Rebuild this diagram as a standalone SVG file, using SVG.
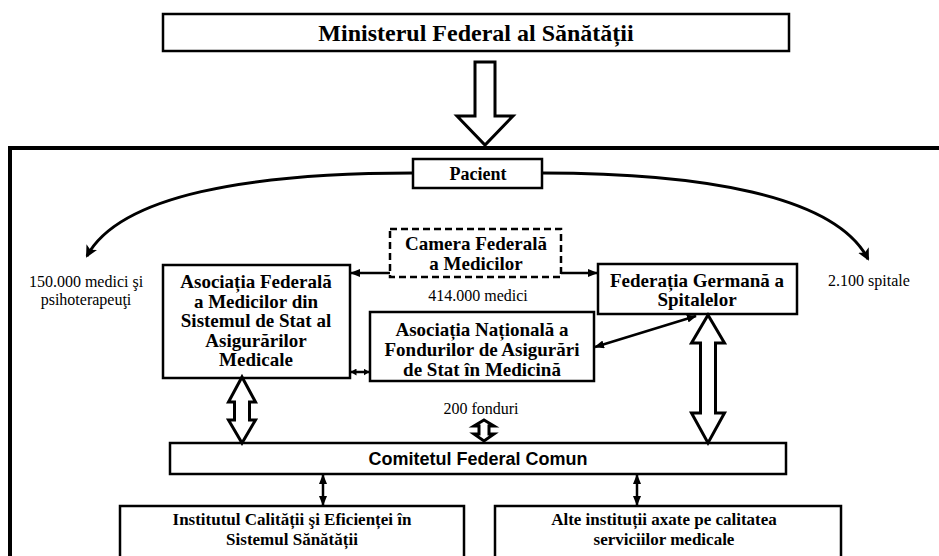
<svg xmlns="http://www.w3.org/2000/svg" width="939" height="556" viewBox="0 0 939 556">
  <defs>
    <style>
      .box { fill: #fff; stroke: #000; stroke-width: 2.5; }
      .dash { fill: #fff; stroke: #000; stroke-width: 2.5; stroke-dasharray: 7 4; }
      .frame { fill: none; stroke: #000; stroke-width: 4; }
      .t { font-family: "Liberation Serif", "Times New Roman", serif; font-weight: bold; font-size: 19px; text-anchor: middle; fill: #000; }
      .tb { font-family: "Liberation Serif", "Times New Roman", serif; font-weight: bold; font-size: 17px; text-anchor: middle; fill: #000; }
      .note { font-family: "Liberation Serif", "Times New Roman", serif; font-size: 16px; text-anchor: middle; fill: #000; }
      .sans { font-family: "Liberation Sans", Arial, sans-serif; font-weight: bold; font-size: 18px; text-anchor: middle; fill: #000; }
      .thin { fill: none; stroke: #000; stroke-width: 2.5; }
      .curve { fill: none; stroke: #000; stroke-width: 3; }
      .block { fill: #fff; stroke: #000; stroke-width: 3; stroke-linejoin: miter; }
    </style>
    <marker id="head" viewBox="0 0 10 8" refX="9" refY="4" markerWidth="10" markerHeight="8" markerUnits="userSpaceOnUse" orient="auto-start-reverse">
      <path d="M0,0 L10,4 L0,8 Z" fill="#000"/>
    </marker>
    <marker id="small" viewBox="0 0 6 7" refX="5.5" refY="3.5" markerWidth="6" markerHeight="7" markerUnits="userSpaceOnUse" orient="auto-start-reverse">
      <path d="M0,0 L6,3.5 L0,7 Z" fill="#000"/>
    </marker>
    <marker id="bighead" viewBox="0 0 12 12" refX="10" refY="6" markerWidth="12" markerHeight="12" markerUnits="userSpaceOnUse" orient="auto">
      <path d="M0,0 L12,6 L0,12 L3,6 Z" fill="#000"/>
    </marker>
  </defs>

  <!-- outer frame, running past the right and bottom edges -->
  <rect class="frame" x="10" y="148" width="940" height="430"/>

  <g id="ministerul">
    <rect class="box" x="163" y="14" width="626" height="37"/>
    <text class="t" x="476" y="41" style="font-size:24px">Ministerul Federal al Sănătății</text>
  </g>

  <g id="pacient">
    <rect class="box" x="413" y="159" width="129" height="29"/>
    <text class="t" x="478" y="180" style="font-size:18px">Pacient</text>
  </g>

  <g id="camera">
    <rect class="dash" x="390" y="229" width="171" height="48"/>
    <text class="t" x="476" y="250">Camera Federală</text>
    <text class="t" x="476" y="270">a Medicilor</text>
  </g>

  <g id="asoc-federala">
    <rect class="box" x="163" y="265" width="187" height="113"/>
    <text class="t" x="256" y="288">Asociația Federală</text>
    <text class="t" x="256" y="307.5">a Medicilor din</text>
    <text class="t" x="256" y="327">Sistemul de Stat al</text>
    <text class="t" x="256" y="346.5">Asigurărilor</text>
    <text class="t" x="256" y="366">Medicale</text>
  </g>

  <g id="federatia">
    <rect class="box" x="598" y="264" width="199" height="50"/>
    <text class="t" x="697" y="287">Federația Germană a</text>
    <text class="t" x="697" y="306">Spitalelor</text>
  </g>

  <g id="asoc-nationala">
    <rect class="box" x="370" y="312" width="224" height="69"/>
    <text class="t" x="482" y="336">Asociația Națională a</text>
    <text class="t" x="482" y="356">Fondurilor de Asigurări</text>
    <text class="t" x="482" y="376">de Stat în Medicină</text>
  </g>

  <g id="comitetul">
    <rect class="box" x="170" y="443" width="616" height="31"/>
    <text class="sans" x="478" y="465">Comitetul Federal Comun</text>
  </g>

  <g id="institutul">
    <rect class="box" x="120" y="506" width="344" height="60"/>
    <text class="tb" x="292" y="525">Institutul Calității şi Eficienței în</text>
    <text class="tb" x="292" y="545">Sistemul Sănătății</text>
  </g>

  <g id="alte">
    <rect class="box" x="495" y="506" width="346" height="60"/>
    <text class="tb" x="664" y="525">Alte instituții axate pe calitatea</text>
    <text class="tb" x="664" y="545">serviciilor medicale</text>
  </g>

  <g id="labels">
    <text class="note" x="86" y="287">150.000 medici şi</text>
    <text class="note" x="86" y="305">psihoterapeuţi</text>
    <text class="note" x="869" y="286">2.100 spitale</text>
    <text class="note" x="478" y="301">414.000 medici</text>
    <text class="note" x="481" y="414">200 fonduri</text>
  </g>

  <g id="connectors">
    <!-- hollow block arrows -->
    <path class="block" d="M475,62 L495,62 L495,116 L513,116 L485,145 L457,116 L475,116 Z"/>
    <path class="block" d="M242,377 L255.5,402 L249.5,402 L249.5,420 L255.5,420 L242,443 L228.5,420 L234.5,420 L234.5,402 L228.5,402 Z"/>
    <path class="block" d="M708,315 L724.5,343 L715.5,343 L715.5,413 L724.5,413 L708,443 L691.5,413 L700.5,413 L700.5,343 L691.5,343 Z"/>
    <path class="block" d="M484,420 L494,426 L489,426 L489,434 L494,434 L484,441 L474,434 L479,434 L479,426 L474,426 Z"/>

    <!-- patient curves -->
    <path class="curve" d="M413,173 C250,173 120,195 87,256" marker-end="url(#bighead)"/>
    <path class="curve" d="M542,173 C700,173 835,195 868,259" marker-end="url(#bighead)"/>

    <!-- thin arrows -->
    <line class="thin" x1="390" y1="273" x2="351" y2="273" marker-end="url(#head)"/>
    <line class="thin" x1="561" y1="273" x2="597" y2="273" marker-end="url(#head)"/>
    <line class="thin" x1="351" y1="372" x2="369" y2="372" stroke-width="2" marker-start="url(#small)" marker-end="url(#small)"/>
    <line class="thin" x1="595" y1="347" x2="696" y2="316" marker-start="url(#head)" marker-end="url(#head)"/>
    <line class="thin" x1="323" y1="475" x2="323" y2="505" marker-start="url(#head)" marker-end="url(#head)"/>
    <line class="thin" x1="637" y1="475" x2="637" y2="505" marker-start="url(#head)" marker-end="url(#head)"/>
  </g>
</svg>
